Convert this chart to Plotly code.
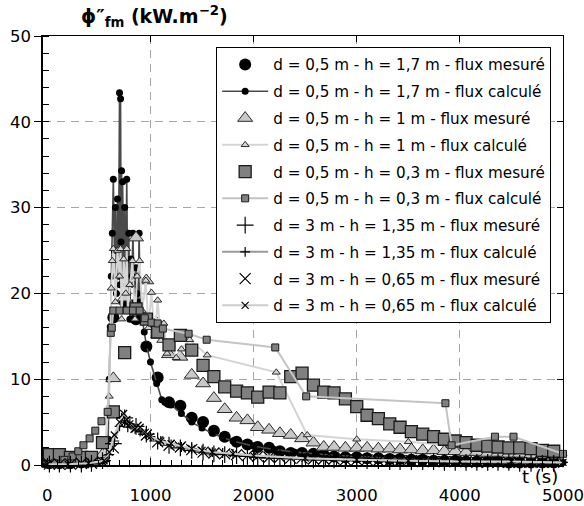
import plotly.graph_objects as go

# ---------------- data ----------------
t_mes = [20, 117, 224, 330, 428, 535, 640, 750, 860, 960, 1070, 1180, 1290, 1400, 1510, 1615,
         1720, 1835, 1940, 2040, 2150, 2255, 2360, 2470, 2580, 2680, 2780, 2890, 3000, 3100,
         3210, 3320, 3420, 3530, 3640, 3745, 3850, 3955, 4060, 4165, 4270, 4370, 4475, 4580,
         4690, 4800, 4910]

h17_mes = [0.2, 0.2, 0.2, 0.3, 0.4, 0.8, 17.2, 19.0, 17.0, 13.8, 10.2, 7.3, 6.9, 5.5, 5.0, 4.0,
           3.3, 2.7, 2.4, 2.1, 2.0, 1.6, 1.4, 1.4, 1.3, 1.2, 1.0, 0.9, 0.9, 0.8,
           0.8, 0.7, 0.7, 0.6, 0.6, 0.5, 0.5, 0.5, 0.4, 0.4, 0.4, 0.4, 0.3, 0.3,
           0.3, 0.3, 0.3]

h1_mes = [0.1, 0.2, 0.2, 0.3, 0.4, 1.2, 10.1, 19.5, 26.5, 21.5, 16.5, 12.9, 12.6, 10.5, 9.5, 7.8,
          6.5, 5.5, 5.2, 4.4, 4.1, 3.7, 3.5, 3.1, 2.6, 2.1, 2.1, 2.0, 2.0, 2.0,
          1.9, 1.9, 1.8, 1.8, 1.7, 1.7, 1.6, 1.6, 1.5, 1.5, 1.4, 1.4, 1.3, 1.3,
          1.2, 1.2, 1.1]

h03_mes = [1.2, 1.2, 0.9, 0.9, 0.9, 2.6, 6.2, 13.1, 18.2, 17.0, 15.5, 14.0, 15.1, 13.4, 11.6, 10.3,
           9.1, 8.6, 8.4, 7.9, 8.5, 8.4, 10.3, 10.7, 9.3, 8.5, 8.4, 7.7, 6.8, 5.8,
           5.4, 4.8, 4.4, 3.9, 3.6, 3.3, 3.0, 2.8, 2.6, 2.3, 2.2, 2.1, 2.0, 2.0,
           1.9, 1.7, 1.6]

h135_mes = [0.1, 0.1, 0.1, 0.1, 0.2, 0.5, 2.5, 5.5, 4.5, 3.6, 2.8, 2.3, 2.0, 1.7, 1.5, 1.3,
            1.2, 1.1, 1.0, 0.9, 0.8, 0.8, 0.7, 0.7, 0.6, 0.6, 0.6, 0.5, 0.5, 0.5,
            0.5, 0.4, 0.4, 0.4, 0.4, 0.4, 0.3, 0.3, 0.3, 0.3, 0.3, 0.3, 0.3, 0.2,
            0.2, 0.2, 0.2]

h065_mes = [0.1, 0.1, 0.1, 0.2, 0.2, 0.4, 2.0, 5.0, 4.4, 3.5, 2.7, 2.3, 2.1, 1.8, 1.5, 1.4,
            1.3, 1.2, 1.1, 1.0, 0.9, 0.9, 0.8, 0.8, 0.7, 0.7, 0.7, 0.6, 0.6, 0.6,
            0.5, 0.5, 0.5, 0.5, 0.4, 0.4, 0.4, 0.4, 0.4, 0.3, 0.3, 0.3, 0.3, 0.3,
            0.3, 0.3, 0.3]

t_h17_calc = [0, 100, 200, 300, 400, 500, 560, 590, 600, 610, 620, 630, 640, 650, 660, 670, 680,
              690, 700, 705, 710, 715, 720, 725, 730, 740, 750, 760, 770, 780, 790, 800, 810,
              820, 830, 840, 850, 860, 870, 880, 890, 900, 920, 940, 960, 1000, 1060, 1110,
              1140, 1200, 1300, 1400, 1500, 1600, 1700, 1800, 2000, 2200, 2400, 2600, 2800,
              3000, 3300, 3600, 4000, 4400, 4800, 5000]
h17_calc = [0.1, 0.1, 0.2, 0.2, 0.3, 0.4, 0.6, 3.0, 10.0, 16.1, 22.0, 27.0, 33.3, 25.0, 30.0, 20.0,
            31.0, 22.0, 43.4, 21.0, 42.7, 26.0, 34.3, 18.0, 33.0, 22.0, 30.0, 19.0, 33.3, 20.0,
            27.0, 17.0, 24.0, 22.0, 27.0, 21.0, 19.0, 23.0, 20.0, 18.0, 27.0, 19.0, 17.0, 15.5,
            14.0, 12.0, 9.5, 7.6, 7.3, 7.0, 6.0, 5.0, 4.3, 3.7, 3.2, 2.8, 2.2, 1.8, 1.5, 1.3,
            1.1, 1.0, 0.8, 0.7, 0.5, 0.4, 0.35, 0.3]

t_h1_calc = [0, 200, 400, 550, 600, 620, 630, 640, 660, 680, 700, 710, 720, 740, 760, 770, 780,
             800, 825, 850, 870, 895, 920, 955, 980, 1010, 1040, 1070, 1100, 1130, 1160, 1200,
             1250, 1300, 1380, 1550, 2220, 2520, 3000, 3500, 3900, 4200, 4600, 5000]
h1_calc = [0.1, 0.2, 0.3, 0.8, 8.0, 20.6, 23.8, 25.2, 19.0, 25.0, 22.0, 25.2, 17.0, 24.0, 20.0,
           25.2, 18.0, 21.0, 23.8, 17.0, 22.0, 23.8, 18.0, 21.5, 16.0, 20.1, 15.0, 19.2, 14.5,
           16.5, 13.0, 14.0, 12.5, 13.5, 14.6, 12.8, 10.8, 3.5, 3.0, 2.7, 2.3, 2.0, 1.6, 1.3]

t_h03_calc = [0, 70, 165, 245, 300, 350, 410, 465, 525, 585, 615, 625, 640, 700, 770, 830, 895,
              945, 1010, 1070, 1120, 1370, 1545, 2210, 2510, 3860, 3920, 4340, 4520, 5000]
h03_calc = [0.1, 0.2, 0.6, 1.0, 1.6, 2.3, 3.1, 4.0, 5.1, 6.2, 15.4, 16.0, 18.0, 18.0, 18.0, 18.0,
            18.0, 17.1, 16.6, 16.5, 15.9, 15.3, 14.6, 13.7, 8.0, 7.2, 2.3, 3.3, 3.3, 1.3]

t_h135_calc = [0, 200, 400, 550, 600, 650, 700, 720, 750, 780, 800, 850, 900, 950, 1000, 1100,
               1200, 1300, 1400, 1500, 1600, 1700, 1800, 2000, 2200, 2500, 3000, 3500, 4000,
               4500, 5000]
h135_calc = [0.1, 0.1, 0.2, 0.4, 1.2, 2.8, 4.5, 5.5, 5.0, 4.4, 4.8, 4.2, 3.9, 3.6, 3.3, 2.8,
             2.4, 2.1, 1.9, 1.7, 1.5, 1.4, 1.3, 1.1, 1.0, 0.8, 0.6, 0.5, 0.4, 0.3, 0.3]

t_h065_calc = [0, 200, 400, 550, 600, 650, 700, 740, 770, 800, 850, 900, 950, 1000, 1100, 1200,
               1300, 1400, 1500, 1600, 1800, 2000, 2500, 3000, 3500, 4000, 4500, 5000]
h065_calc = [0.1, 0.1, 0.2, 0.5, 1.5, 3.5, 5.0, 6.0, 5.3, 4.8, 4.2, 4.4, 3.8, 3.3, 2.8, 2.5,
             2.2, 1.9, 1.7, 1.5, 1.3, 1.1, 0.8, 0.6, 0.5, 0.4, 0.4, 0.3]

names = [
    "d = 0,5 m - h = 1,7 m - flux mesuré",
    "d = 0,5 m - h = 1,7 m - flux calculé",
    "d = 0,5 m - h = 1 m - flux mesuré",
    "d = 0,5 m - h = 1 m - flux calculé",
    "d = 0,5 m - h = 0,3 m - flux mesuré",
    "d = 0,5 m - h = 0,3 m - flux calculé",
    "d = 3 m - h = 1,35 m - flux mesuré",
    "d = 3 m - h = 1,35 m - flux calculé",
    "d = 3 m - h = 0,65 m - flux mesuré",
    "d = 3 m - h = 0,65 m - flux calculé",
]

x_ticks = [0, 1000, 2000, 3000, 4000, 5000]
y_ticks = [0, 10, 20, 30, 40, 50]
x_grid = [1000, 2000, 3000, 4000]
y_grid = [10, 20, 30, 40]

# ---------------- figure ----------------
FONT = "DejaVu Sans"
fig = go.Figure()

def mes(x, y, name, symbol, size, fill, lcol, lw, grp):
    fig.add_trace(go.Scatter(
        x=x, y=y, name=name, mode="markers", cliponaxis=False, legendgroup=grp,
        marker=dict(symbol=symbol, size=size, color=fill, line=dict(color=lcol, width=lw))))

def calc(x, y, name, lcolor, lwidth, symbol, size, fill, mlcol, mlw, grp):
    fig.add_trace(go.Scatter(
        x=x, y=y, name=name, mode="lines+markers", cliponaxis=False, legendgroup=grp,
        line=dict(color=lcolor, width=lwidth),
        marker=dict(symbol=symbol, size=size, color=fill, line=dict(color=mlcol, width=mlw))))

mes(t_mes, h17_mes, names[0], "circle", 12, "black", "black", 0, "g0")
calc(t_h17_calc, h17_calc, names[1], "#4a4a4a", 1.6, "circle", 7, "black", "black", 0, "g1")
mes(t_mes, h1_mes, names[2], "triangle-up", 13, "#c8c8c8", "#2a2a2a", 1, "g2")
calc(t_h1_calc, h1_calc, names[3], "#d4d4d4", 2, "triangle-up", 7, "#d4d4d4", "#2a2a2a", 1, "g3")
mes(t_mes, h03_mes, names[4], "square", 12, "#808080", "#1a1a1a", 1.3, "g4")
calc(t_h03_calc, h03_calc, names[5], "#c4c4c4", 2, "square", 7, "#808080", "#1a1a1a", 1, "g5")
mes(t_mes, h135_mes, names[6], "cross-thin-open", 12, "black", "black", 1.2, "g6")
calc(t_h135_calc, h135_calc, names[7], "#999999", 2, "cross-thin-open", 7, "black", "black", 1.2, "g7")
mes(t_mes, h065_mes, names[8], "x-thin-open", 11, "black", "black", 1.2, "g8")
calc(t_h065_calc, h065_calc, names[9], "#cccccc", 2, "x-thin-open", 7, "black", "black", 1.2, "g9")

# overlay axes carrying the dashed grid and the mirrored ticks
fig.add_trace(go.Scatter(x=[None], y=[None], xaxis="x2", yaxis="y2",
                         showlegend=False, hoverinfo="skip"))

XR = [-42, 5000]
YR = [0, 50]
tickfont = dict(family=FONT, size=16.5, color="black")

fig.update_layout(
    width=584, height=506,
    margin=dict(l=43, r=21, t=36, b=41, autoexpand=False),
    paper_bgcolor="white", plot_bgcolor="white",
    font=dict(family=FONT, color="black"),
    xaxis=dict(range=XR, tickvals=x_ticks, ticktext=[str(v) for v in x_ticks], automargin=False,
               showgrid=False, zeroline=False, showline=True, linecolor="black", linewidth=1.5,
               ticks="inside", ticklen=7, tickcolor="black", tickwidth=1,
               minor=dict(dtick=100, ticks="inside", ticklen=5, tickcolor="black", showgrid=False),
               tickfont=tickfont, ticklabelstandoff=14),
    yaxis=dict(range=YR, tickvals=y_ticks, ticktext=[str(v) for v in y_ticks], automargin=False,
               showgrid=False, zeroline=False, showline=True, linecolor="black", linewidth=1.5,
               ticks="outside", ticklen=7, tickcolor="black", tickwidth=1,
               minor=dict(dtick=2, ticks="inside", ticklen=6, tickcolor="black", showgrid=False),
               tickfont=tickfont),
    xaxis2=dict(range=XR, overlaying="x", side="top", tickvals=x_grid, showticklabels=False,
                automargin=False,
                showgrid=True, gridcolor="#a6a6a6", gridwidth=1, griddash="8px,6px",
                zeroline=False, showline=True, linecolor="black", linewidth=1,
                ticks="inside", ticklen=6, tickcolor="black"),
    yaxis2=dict(range=YR, overlaying="y", side="right", tickvals=y_grid, showticklabels=False,
                automargin=False,
                showgrid=True, gridcolor="#a6a6a6", gridwidth=1, griddash="8px,6px",
                zeroline=False, showline=True, linecolor="black", linewidth=1,
                ticks="inside", ticklen=6, tickcolor="black"),
    legend=dict(x=0.333, y=0.974, xanchor="left", yanchor="top",
                bgcolor="white", bordercolor="black", borderwidth=1,
                font=dict(family=FONT, size=15.2, color="black"),
                traceorder="grouped", tracegroupgap=4, itemwidth=46),
    showlegend=True,
)

fig.add_annotation(xref="paper", yref="paper", x=0.07, y=1.045, xanchor="left", yanchor="middle",
                   text="<b>ϕ″<sub>fm</sub> (kW.m<sup>−2</sup>)</b>", showarrow=False,
                   font=dict(family=FONT, size=19, color="black"))
fig.add_annotation(xref="paper", yref="paper", x=0.994, y=-0.026, xanchor="right", yanchor="middle",
                   text="t (s)", showarrow=False,
                   font=dict(family=FONT, size=18, color="black"))

fig.write_html("out.html", config={"displayModeBar": False},
               post_script="document.body.style.margin='0';document.body.style.overflow='hidden';")
